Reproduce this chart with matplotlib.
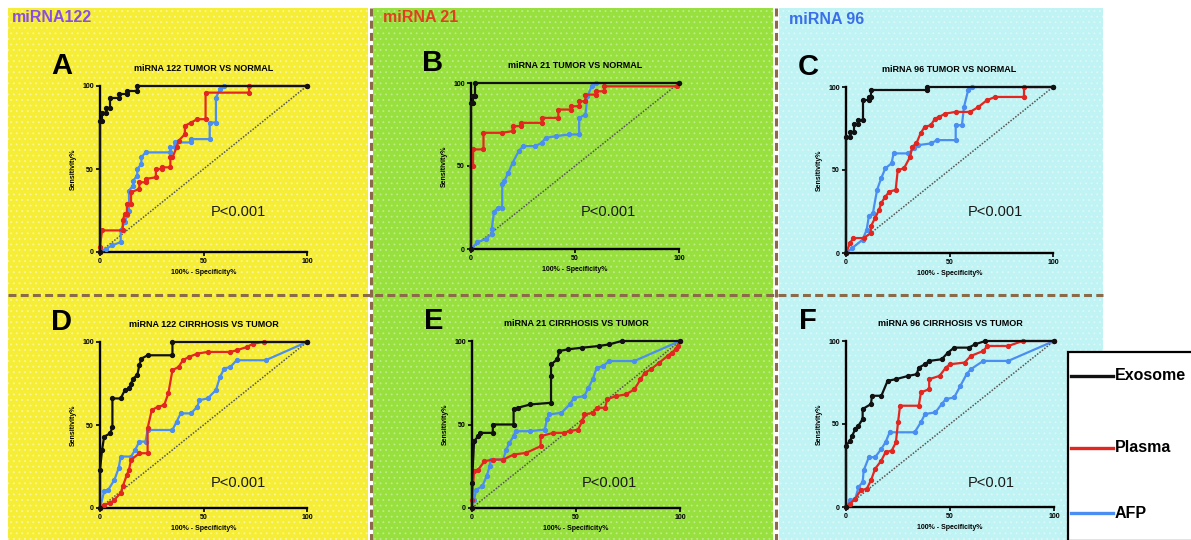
"""
plot.py -- six-panel ROC comparison (exosome / plasma miRNA vs AFP).

Rows: tumor vs normal (A-C), cirrhosis vs tumor (D-F).
Columns: miRNA 122, miRNA 21, miRNA 96.
"""

import matplotlib
matplotlib.use("Agg")
import matplotlib.pyplot as plt
from matplotlib.patches import Rectangle
from matplotlib.lines import Line2D

plt.rcParams["font.family"] = ["Liberation Sans", "DejaVu Sans"]
plt.rcParams["hatch.linewidth"] = 0.6

W, H = 1191, 540

# -- data: (100% - specificity, sensitivity) vertices --
A_exo_x = [0, 0, 1, 1, 3, 3, 5, 5, 9, 9, 13, 13, 18, 18, 100]
A_exo_y = [0, 79, 79, 84, 84, 87, 87, 93, 93, 95, 95, 97, 97, 100, 100]
A_pla_x = [0, 0, 1, 11, 11, 12, 13, 13, 15, 15, 19, 19, 22, 22, 27, 27, 30, 30,
           34, 34, 35, 37, 38, 41, 41, 44, 47, 51, 51, 72, 72, 100]
A_pla_y = [0, 3, 13, 13, 19, 23, 23, 29, 29, 36, 38, 42, 42, 44, 45, 50, 50, 51,
           51, 57, 57, 63, 67, 71, 76, 78, 80, 80, 96, 96, 100, 100]
A_afp_x = [0, 3, 6, 10, 10, 12, 13, 14, 14, 16, 16, 18, 18, 20, 20, 22, 34, 34,
           36, 36, 44, 44, 53, 53, 56, 56, 58, 60, 100]
A_afp_y = [0, 2, 4, 6, 13, 18, 22, 25, 37, 40, 43, 46, 50, 53, 57, 60, 60, 63,
           63, 66, 66, 68, 68, 78, 78, 93, 98, 100, 100]

B_exo_x = [0, 0, 1, 1, 2, 2, 100]
B_exo_y = [0, 88, 88, 92, 92, 100, 100]
B_pla_x = [0, 0, 1, 1, 6, 6, 15, 20, 20, 24, 24, 34, 34, 42, 42, 48, 48, 52, 52,
           55, 55, 60, 60, 64, 64, 99, 100]
B_pla_y = [0, 50, 50, 60, 60, 70, 70, 71, 74, 74, 76, 76, 79, 79, 84, 84, 86, 86,
           89, 89, 93, 93, 95, 95, 98, 98, 100]
B_afp_x = [0, 3, 7, 10, 10, 11, 13, 15, 15, 16, 18, 20, 23, 25, 31, 34, 36, 41,
           47, 52, 52, 55, 56, 58, 60, 100]
B_afp_y = [0, 4, 6, 9, 12, 22, 25, 25, 39, 41, 46, 52, 59, 62, 62, 64, 67, 68,
           69, 69, 79, 81, 92, 98, 100, 100]

C_exo_x = [0, 0, 2, 2, 4, 4, 6, 6, 8, 8, 11, 11, 12, 12, 39, 39, 100]
C_exo_y = [0, 70, 70, 73, 73, 78, 78, 80, 80, 92, 92, 94, 94, 98, 98, 100, 100]
C_pla_x = [0, 2, 3.5, 8.5, 12, 12, 14, 16, 17, 19, 21, 24, 25, 28, 31, 32, 34,
           36, 38, 41, 43, 45, 48, 53, 60, 64, 68, 72, 86, 86, 100]
C_pla_y = [0, 6, 9, 9, 12, 16, 21, 26, 30, 34, 37, 38, 50, 51, 58, 64, 66,
           72, 76, 77, 81, 82, 84, 85, 85, 88, 92, 94, 94, 100, 100]
C_afp_x = [0, 3, 8, 10, 11, 13, 15, 17, 19, 22, 23, 30, 33, 35, 41, 44, 53, 53,
           56, 57, 59, 61, 100]
C_afp_y = [0, 3, 8, 14, 22, 24, 38, 45, 51, 54, 60, 60, 63, 65, 66, 68, 68, 77,
           77, 88, 98, 100, 100]

D_exo_x = [0, 0, 1, 2, 5, 6, 6, 10, 12, 14, 15, 16, 18, 19, 20, 23, 35, 35, 100]
D_exo_y = [0, 23, 35, 43, 45, 49, 66, 66, 71, 72, 75, 78, 80, 86, 90, 92, 92, 100, 100]
D_pla_x = [0, 2, 5, 7, 10, 11, 13, 14, 15, 19, 23, 23, 25, 28, 31, 33, 35, 38,
           40, 43, 47, 52, 63, 66, 71, 74, 79, 100]
D_pla_y = [0, 2, 3, 5, 9, 13, 20, 23, 29, 33, 33, 48, 59, 61, 62, 69, 83, 85,
           89, 91, 93, 94, 94, 95, 97, 99, 100, 100]
D_afp_x = [0, 2, 4, 7, 9, 10, 15, 17, 19, 22, 23, 35, 37, 39, 44, 47, 48, 52,
           56, 58, 60, 63, 66, 80, 100]
D_afp_y = [0, 10, 11, 17, 24, 31, 31, 35, 40, 40, 47, 47, 52, 57, 57, 61, 65, 66,
           71, 79, 84, 85, 89, 89, 100]

E_exo_x = [0, 0, 1, 3, 4, 10, 10, 20, 20, 22, 28, 38, 38, 38, 41, 42, 46, 53,
           61, 66, 72, 100]
E_exo_y = [0, 15, 40, 43, 45, 45, 50, 50, 59, 60, 62, 63, 79, 86, 89, 94, 95, 96,
           97, 98, 100, 100]
E_pla_x = [0, 0, 1, 3, 6, 10, 15, 20, 26, 33, 33, 39, 44, 47, 51, 53, 54, 58,
           60, 64, 65, 69, 74, 78, 81, 83, 86, 90, 94, 96, 98, 99, 100]
E_pla_y = [0, 5, 22, 23, 28, 29, 29, 32, 33, 37, 43, 45, 45, 46, 47, 52, 56, 57,
           60, 60, 65, 67, 68, 71, 77, 81, 83, 87, 91, 93, 95, 97, 100]
E_afp_x = [0, 1, 2, 5, 7, 8.5, 9, 15, 16.5, 18, 20, 21, 28, 35, 36, 37, 43, 47,
           49, 54, 56, 58, 60, 63, 66, 78, 100]
E_afp_y = [0, 5, 11, 13, 19, 25, 29, 29, 35, 39, 43, 46, 46, 47, 53, 56, 57, 62,
           66, 67, 72, 77, 84, 85, 88, 88, 100]

F_exo_x = [0, 0, 2, 3, 4.5, 6, 8, 8, 12, 12.5, 17, 20, 24, 30, 34, 35, 38, 40,
           46, 49, 52, 59, 62, 67, 100]
F_exo_y = [0, 37, 40, 43, 47, 49, 53, 59, 62, 67, 67, 76, 77, 79, 80, 84, 86, 88,
           89, 93, 96, 96, 98, 100, 100]
F_pla_x = [0, 2, 4.5, 7, 10, 12, 14, 17, 19, 22, 24, 25, 26, 35, 36, 40, 40, 45,
           48, 50, 57, 60, 66, 68, 78, 85, 100]
F_pla_y = [0, 2, 5, 10, 11, 16, 23, 28, 33, 34, 39, 51, 61, 61, 69, 71, 77, 79,
           84, 86, 87, 91, 94, 97, 97, 100, 100]
F_afp_x = [0, 2, 4.5, 6, 8, 8.5, 11, 14, 17, 19, 21, 33, 36, 38, 43, 46, 48, 52,
           55, 58, 60, 66, 78, 100]
F_afp_y = [0, 4, 5, 12, 15, 22, 30, 30, 35, 39, 45, 45, 51, 56, 57, 62, 65, 66,
           73, 80, 83, 88, 88, 100]

letters = ["A", "B", "C", "D", "E", "F"]
titles = [
    "miRNA 122 TUMOR VS NORMAL", "miRNA 21 TUMOR VS NORMAL", "miRNA 96 TUMOR VS NORMAL",
    "miRNA 122 CIRRHOSIS VS TUMOR", "miRNA 21 CIRRHOSIS VS TUMOR", "miRNA 96 CIRRHOSIS VS TUMOR",
]
p_labels = ["P<0.001", "P<0.001", "P<0.001", "P<0.001", "P<0.001", "P<0.01"]
column_labels = ["miRNA122", "miRNA 21", "miRNA 96"]
series_names = ["Exosome", "Plasma", "AFP"]

curves = [
    [(A_exo_x, A_exo_y), (A_pla_x, A_pla_y), (A_afp_x, A_afp_y)],
    [(B_exo_x, B_exo_y), (B_pla_x, B_pla_y), (B_afp_x, B_afp_y)],
    [(C_exo_x, C_exo_y), (C_pla_x, C_pla_y), (C_afp_x, C_afp_y)],
    [(D_exo_x, D_exo_y), (D_pla_x, D_pla_y), (D_afp_x, D_afp_y)],
    [(E_exo_x, E_exo_y), (E_pla_x, E_pla_y), (E_afp_x, E_afp_y)],
    [(F_exo_x, F_exo_y), (F_pla_x, F_pla_y), (F_afp_x, F_afp_y)],
]

# -- styling --
SERIES_COLORS = ["#111111", "#e3261f", "#4a8ef2"]
COLUMN_LABEL_COLORS = ["#8a4ee0", "#e0401e", "#3a6fe8"]
BG_COLORS = ["#f6ee36", "#97e03e", "#c0f3f3"]
DOT_COLORS = ["#faf59c", "#bdec8a", "#dcf8f8"]
DASH_COLOR = "#8a6a48"

# pixel boxes (left, top, right, bottom) for axes, background strips
AX_BOXES = [(100, 86, 307, 252), (471, 83, 679, 249), (846, 87, 1053, 253),
            (100, 342, 307, 508), (472, 341, 680, 508), (846, 341, 1054, 507)]
BG_BOXES = [(8, 8, 368, 540), (373, 8, 773, 540), (779, 8, 1103, 540)]
P_POS = [(67, 24), (66, 22), (72, 24.5), (67, 15), (66, 15), (70, 14.5)]


def fx(x):
    return x / W


def fy(y):
    return 1 - y / H


def draw_backgrounds(fig):
    for (l, t, r, b), bg, dot in zip(BG_BOXES, BG_COLORS, DOT_COLORS):
        fig.add_artist(Rectangle((fx(l), fy(b)), fx(r - l), (b - t) / H,
                                 transform=fig.transFigure, facecolor=bg,
                                 edgecolor="none", zorder=-3))
        fig.add_artist(Rectangle((fx(l), fy(b)), fx(r - l), (b - t) / H,
                                 transform=fig.transFigure, facecolor="none",
                                 edgecolor=dot, hatch="...", lw=0, zorder=-2))

    dash = dict(color=DASH_COLOR, lw=2.2, linestyle=(0, (2.6, 1.4)),
                transform=fig.transFigure, zorder=-1)
    fig.add_artist(Line2D([fx(8), fx(1103)], [fy(295), fy(295)], **dash))
    for x in (370.5, 776):
        fig.add_artist(Line2D([fx(x), fx(x)], [fy(8), fy(540)], **dash))

    for (x, y), label, c in zip([(12, 18), (383, 18), (789, 20)],
                                column_labels, COLUMN_LABEL_COLORS):
        fig.text(fx(x), fy(y), label, color=c, fontsize=11.5,
                 fontweight="bold", ha="left", va="center")


def draw_panel(fig, idx):
    l, t, r, b = AX_BOXES[idx]
    ax = fig.add_axes([fx(l), fy(b), fx(r - l), (b - t) / H])
    ax.patch.set_alpha(0)
    ax.set_zorder(2)

    ax.plot([0, 100], [0, 100], color="#555555", lw=1.1,
            linestyle=(0, (1, 1)), zorder=2)
    # draw AFP first, exosome on top
    for k in (2, 1, 0):
        xs, ys = curves[idx][k]
        ax.plot(xs, ys, color=SERIES_COLORS[k], lw=1.6, marker="o", ms=2.8,
                clip_on=False, zorder=3 + (2 - k))

    ax.set_xlim(0, 100)
    ax.set_ylim(0, 100)
    ax.set_xticks([0, 50, 100])
    ax.set_yticks([0, 50, 100])
    for s in ("top", "right"):
        ax.spines[s].set_visible(False)
    for s in ("left", "bottom"):
        ax.spines[s].set_linewidth(1.7)
    ax.tick_params(length=3, width=1.2, pad=1.5, labelsize=5)
    for lab in ax.get_xticklabels() + ax.get_yticklabels():
        lab.set_fontweight("bold")

    ax.set_xlabel("100% - Specificity%", fontsize=5, fontweight="bold", labelpad=3)
    ax.set_ylabel("Sensitivity%", fontsize=5, fontweight="bold", labelpad=4)
    ax.set_title(titles[idx], fontsize=6.5, fontweight="bold", pad=11)

    px, py = P_POS[idx]
    ax.text(px, py, p_labels[idx], fontsize=10.5, ha="center", va="center",
            color="#1a1a1a")
    fig.text(fx(l - 38), fy(t - 20), letters[idx], fontsize=21,
             fontweight="bold", ha="center", va="center")


def draw_legend(fig):
    fig.add_artist(Rectangle((fx(1068), fy(541)), fx(130), 189 / H,
                             transform=fig.transFigure, facecolor="white",
                             edgecolor="black", lw=1.6, zorder=5))
    for name, color, y in zip(series_names, SERIES_COLORS, (376, 448, 513)):
        fig.add_artist(Line2D([fx(1071), fx(1113)], [fy(y), fy(y)],
                              color=color, lw=2.4, transform=fig.transFigure,
                              zorder=6))
        fig.text(fx(1115), fy(y), name, fontsize=11.5, fontweight="bold",
                 ha="left", va="center", zorder=6)


def main():
    fig = plt.figure(figsize=(W / 100, H / 100), dpi=100)
    fig.patch.set_facecolor("white")
    draw_backgrounds(fig)
    for i in range(6):
        draw_panel(fig, i)
    draw_legend(fig)
    fig.savefig("out.png", dpi=100)
    plt.close(fig)


if __name__ == "__main__":
    main()
